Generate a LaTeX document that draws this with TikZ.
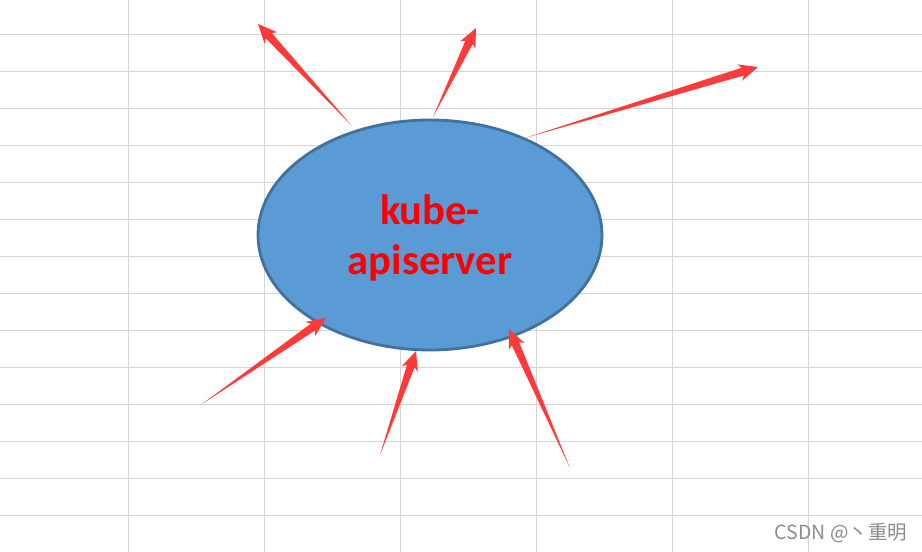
\documentclass[tikz,border=0pt]{standalone}
\usepackage{fontspec}
\setmainfont{Carlito}
\newfontfamily\cjkfont{Noto Sans CJK SC}
\usetikzlibrary{shapes.geometric,calc}
\definecolor{gridgray}{HTML}{D4D4D4}
\definecolor{ellfill}{HTML}{5B9BD5}
\definecolor{elldraw}{HTML}{41719C}
\definecolor{arrowred}{HTML}{FF3A3A}
\definecolor{wmgray}{HTML}{8C8C8C}
\newcommand\taperarrow[2]{%
  \fill[arrowred] (#1)
    -- ($(#2)!16pt!(#1)!4pt!90:(#1)$)
    -- ($(#2)!19pt!(#1)!8.5pt!90:(#1)$)
    -- (#2)
    -- ($(#2)!19pt!(#1)!8.5pt!-90:(#1)$)
    -- ($(#2)!16pt!(#1)!4pt!-90:(#1)$)
    -- cycle;}
\tikzset{
  gridline/.style={draw=gridgray, line width=1pt},
  apinode/.style={ellipse, fill=ellfill, draw=elldraw, line width=2.8pt,
    minimum width=344pt, minimum height=230pt, inner sep=0pt},
  apilabel/.style={text=red, align=center, font=\bfseries\fontsize{42.5}{50}\selectfont},
  watermark/.style={text=wmgray, font=\cjkfont\fontsize{19.5}{21}\selectfont}
}
\begin{document}
\begin{tikzpicture}[x=1pt, y=-1pt]
\useasboundingbox (0,0) rectangle (922,552);
\fill[white] (0,0) rectangle (922,552);
% grid
\foreach \x in {128.5,264.5,400.5,536.5,672.5,808.5}
  \draw[gridline] (\x,0) -- (\x,552);
\foreach \k in {0,...,13}
  \draw[gridline] (0,{34+37*\k}) -- (922,{34+37*\k});
% central ellipse
\node[apinode] (api) at (430,235) {};
\node[apilabel] (lbl) at (430,238) {kube-\\apiserver};
% arrow end points
\coordinate (t1) at (352,126); \coordinate (h1) at (258,24);
\coordinate (t2) at (433,117); \coordinate (h2) at (476,28);
\coordinate (t3) at (525,138); \coordinate (h3) at (758,67);
\coordinate (t4) at (202,404); \coordinate (h4) at (326,318);
\coordinate (t5) at (380,455); \coordinate (h5) at (416,351);
\coordinate (t6) at (570,468); \coordinate (h6) at (509,329);
\taperarrow{t1}{h1}
\taperarrow{t2}{h2}
\taperarrow{t3}{h3}
\taperarrow{t4}{h4}
\taperarrow{t5}{h5}
\taperarrow{t6}{h6}
% watermark
\node[watermark] (wm) at (841,533) {CSDN @丶重明};
\end{tikzpicture}
\end{document}
